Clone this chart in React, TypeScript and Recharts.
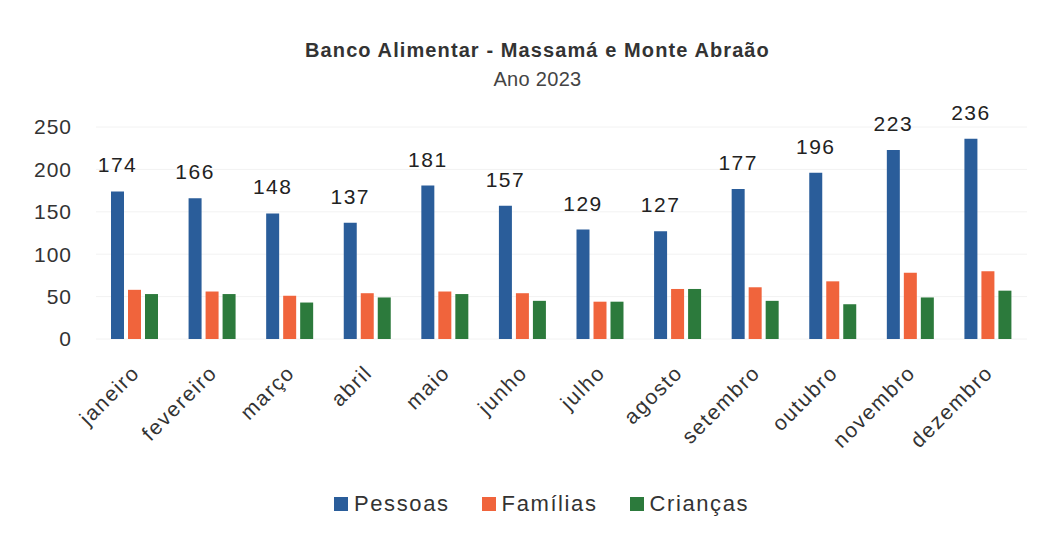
import React from 'react';
import { BarChart, Bar, XAxis, YAxis, CartesianGrid, Legend, LabelList } from 'recharts';

const months = ['janeiro', 'fevereiro', 'março', 'abril', 'maio', 'junho', 'julho', 'agosto', 'setembro', 'outubro', 'novembro', 'dezembro'];
const pessoas = [174, 166, 148, 137, 181, 157, 129, 127, 177, 196, 223, 236];
const familias = [58, 56, 51, 54, 56, 54, 44, 59, 61, 68, 78, 80];
const criancas = [53, 53, 43, 49, 53, 45, 44, 59, 45, 41, 49, 57];
const yTicks = [0, 50, 100, 150, 200, 250];

const seriesNames = { p: 'Pessoas', f: 'Famílias', c: 'Crianças' };
const colors = { p: '#2A5D9A', f: '#F0643C', c: '#2C7A3C' };

const data = months.map((m, i) => ({ month: m, p: pessoas[i], f: familias[i], c: criancas[i] }));

const FONT = '"Liberation Sans", Arial, sans-serif';

const XTick = (props: any) => {
  const { x, y, payload } = props;
  return (
    <g transform={`translate(${x + 6},${y + 27})`}>
      <text
        x={0}
        y={0}
        textAnchor="end"
        transform="rotate(-45)"
        fontSize={21}
        letterSpacing={1.6}
        fontFamily={FONT}
        fill="#333"
      >
        {payload.value}
      </text>
    </g>
  );
};

const LegendContent = () => {
  const items: Array<keyof typeof seriesNames> = ['p', 'f', 'c'];
  return (
    <div style={{ display: 'flex', alignItems: 'center', height: 30, fontFamily: FONT, fontSize: 22, color: '#333' }}>
      {items.map((k) => (
        <div key={k} style={{ display: 'flex', alignItems: 'center', marginRight: 32 }}>
          <span style={{ display: 'inline-block', width: 14, height: 14, background: colors[k], marginRight: 6 }} />
          <span style={{ letterSpacing: 1.6 }}>{seriesNames[k]}</span>
        </div>
      ))}
    </div>
  );
};

export default function App() {
  return (
    <div style={{ position: 'absolute', left: 0, top: 0, width: 1045, height: 538, background: '#fff' }}>
      <div
        style={{
          position: 'absolute',
          left: 0,
          width: 1075,
          top: 39,
          textAlign: 'center',
          fontFamily: FONT,
          fontWeight: 'bold',
          fontSize: 20,
          letterSpacing: 1.1,
          color: '#333',
        }}
      >
        Banco Alimentar - Massamá e Monte Abraão
      </div>
      <div
        style={{
          position: 'absolute',
          left: 0,
          width: 1075,
          top: 68,
          textAlign: 'center',
          fontFamily: FONT,
          fontSize: 20,
          letterSpacing: 0.3,
          color: '#444',
        }}
      >
        Ano 2023
      </div>
      <BarChart
        width={1045}
        height={538}
        data={data}
        margin={{ top: 127, right: 18, left: 0, bottom: 19 }}
        barSize={13}
        barGap={4}
      >
        <CartesianGrid vertical={false} stroke="#f2f2f2" />
        <XAxis
          dataKey="month"
          tick={<XTick />}
          tickLine={false}
          axisLine={false}
          interval={0}
          height={150}
        />
        <YAxis
          width={96}
          domain={[0, 250]}
          ticks={yTicks}
          tickLine={false}
          axisLine={false}
          tickMargin={18}
          tick={{ fontSize: 21, fontFamily: FONT, fill: '#333', letterSpacing: 1 }}
        />
        <Legend
          verticalAlign="bottom"
          content={<LegendContent />}
          wrapperStyle={{ left: 334, width: 470, height: 30 }}
        />
        <Bar dataKey="p" name={seriesNames.p} fill={colors.p} isAnimationActive={false}>
          <LabelList
            dataKey="p"
            position="top"
            offset={19}
            style={{ fontSize: 21, fontFamily: FONT, fill: '#222', letterSpacing: 1.5 }}
          />
        </Bar>
        <Bar dataKey="f" name={seriesNames.f} fill={colors.f} isAnimationActive={false} />
        <Bar dataKey="c" name={seriesNames.c} fill={colors.c} isAnimationActive={false} />
      </BarChart>
    </div>
  );
}
